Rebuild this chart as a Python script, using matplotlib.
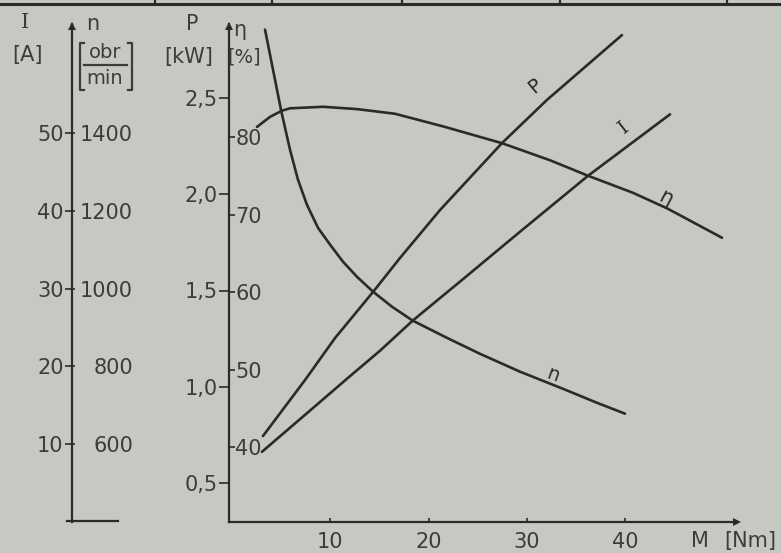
import matplotlib
matplotlib.use('Agg')
import matplotlib.pyplot as plt
from matplotlib.lines import Line2D

# ---------------- data ----------------
M_n = [3.36, 4.17, 4.98, 5.90, 6.71, 7.63, 8.75, 9.97, 11.29, 12.72, 14.34,
       16.28, 18.41, 21.87, 25.23, 29.30, 33.67, 37.13, 39.98]
n_vals = [1666, 1563, 1460, 1357, 1280, 1215, 1156, 1113, 1069, 1030, 992,
          953, 917, 873, 832, 786, 742, 706, 678]

M_eta = [2.54, 3.87, 5.09, 5.90, 9.26, 12.72, 16.58, 21.67, 27.47, 32.35,
         36.22, 40.79, 44.25, 49.85]
eta_vals = [81.3, 82.6, 83.4, 83.7, 83.9, 83.6, 83.0, 81.3, 79.2, 77.0,
            75.0, 72.8, 70.8, 67.0]

M_P = [3.15, 7.43, 10.48, 14.34, 17.09, 21.16, 27.47, 32.04, 39.67]
P_vals = [0.744, 1.035, 1.253, 1.492, 1.669, 1.918, 2.266, 2.490, 2.827]

M_I = [3.05, 8.95, 11.70, 15.06, 18.41, 23.40, 29.30, 36.22, 44.56]
I_vals = [9.0, 15.4, 18.4, 22.0, 25.9, 31.1, 37.3, 44.5, 52.4]

M_ticks = [10, 20, 30, 40]
P_ticks = [0.5, 1.0, 1.5, 2.0, 2.5]
P_ticklabels = ['0,5', '1,0', '1,5', '2,0', '2,5']
eta_ticks = [40, 50, 60, 70, 80]
I_ticks = [10, 20, 30, 40, 50]
n_ticks = [600, 800, 1000, 1200, 1400]

# ---------------- style ----------------
W, H = 781, 553
BG = '#c6c9c1'
INK = '#2a2b26'
TXT = '#3b3d38'
LW = 1.9
FS = 15
plt.rcParams['font.family'] = ['DejaVu Sans']

fig = plt.figure(figsize=(W / 100, H / 100), dpi=100, facecolor=BG)

X_LEFT, X_RIGHT, Y_BOT = 229, 781, 522      # pixel frame of the main axes
X0, PX_PER_NM = 232, 9.83                    # M = 0 position / scale


def fx(px):
    return px / W


def fy(py):
    return (H - py) / H


def lim(v1, y1, v2, y2):
    k = (v2 - v1) / (y1 - y2)
    return (v1 - (Y_BOT - y1) * k, v1 + y1 * k)


ax = fig.add_axes([fx(X_LEFT), fy(Y_BOT), (X_RIGHT - X_LEFT) / W, Y_BOT / H])
ax.set_facecolor('none')
ax.set_xlim((X_LEFT - X0) / PX_PER_NM, (X_RIGHT - X0) / PX_PER_NM)
ax.set_ylim(*lim(0.5, 483, 2.5, 98))

axe = ax.twinx()
axe.set_ylim(*lim(40, 447, 80, 137))
axI = ax.twinx()
axI.set_ylim(*lim(10, 444, 50, 133))
axn = ax.twinx()
axn.set_ylim(*lim(600, 444, 1400, 133))

for a in (ax, axe, axI, axn):
    for s in a.spines.values():
        s.set_visible(False)
        s.set_color(INK)
        s.set_linewidth(1.6)

# main axes: P on left, M on bottom
ax.spines['left'].set_visible(True)
ax.spines['left'].set_bounds(ax.get_ylim()[0], 0.5 + (483 - 24) / 192.5)
ax.spines['bottom'].set_visible(True)
ax.spines['bottom'].set_bounds(ax.get_xlim()[0], (737 - X0) / PX_PER_NM)
ax.set_xticks(M_ticks)
ax.set_xticklabels([str(t) for t in M_ticks])
ax.tick_params(axis='x', direction='in', length=3, width=1.2, color=INK,
               labelsize=FS, labelcolor=TXT, pad=7)
ax.set_yticks(P_ticks)
ax.set_yticklabels(P_ticklabels)
ax.tick_params(axis='y', direction='out', length=7, width=1.2, color=INK,
               labelsize=FS, labelcolor=TXT, pad=1)

# eta: ticks/labels to the right of the same spine
axe.spines['right'].set_position(('axes', 0))
axe.yaxis.tick_right()
axe.set_yticks(eta_ticks)
axe.set_yticklabels([str(t) for t in eta_ticks])
axe.tick_params(axis='y', direction='out', length=4, width=1.2, color=INK,
                labelsize=FS, labelcolor=TXT, pad=0.5)

# I / n axis far left
pos_left = (72 - X_LEFT) / (X_RIGHT - X_LEFT)
axI.spines['left'].set_visible(True)
axI.spines['left'].set_position(('axes', pos_left))
axI.spines['left'].set_bounds(axI.get_ylim()[0], (Y_BOT - 24) / 7.775)
axI.yaxis.tick_left()
axI.set_yticks(I_ticks)
axI.set_yticklabels([str(t) for t in I_ticks])
axI.tick_params(axis='y', direction='out', length=5, width=1.2, color=INK,
                labelsize=FS, labelcolor=TXT, pad=1)

axn.spines['right'].set_position(('axes', pos_left))
axn.yaxis.tick_right()
axn.set_yticks(n_ticks)
axn.set_yticklabels([str(t) for t in n_ticks])
axn.tick_params(axis='y', direction='out', length=2, width=1.2, color=INK,
                labelsize=FS, labelcolor=TXT, pad=42)
for lab in axn.get_yticklabels():
    lab.set_horizontalalignment('right')

# ---------------- curves ----------------
kw = dict(color=INK, lw=LW, solid_capstyle='round', solid_joinstyle='round')
ax.plot(M_P, P_vals, **kw)
axe.plot(M_eta, eta_vals, **kw)
axI.plot(M_I, I_vals, **kw)
axn.plot(M_n, n_vals, **kw)

# curve labels
fig.text(fx(535), fy(86), 'P', fontsize=14, color=INK, rotation=40,
         ha='center', va='center')
fig.text(fx(624), fy(128), 'I', fontsize=14, color=INK, rotation=38,
         ha='center', va='center', family='DejaVu Serif')
fig.text(fx(666), fy(198), 'η', fontsize=15, color=INK, rotation=-28,
         ha='center', va='center')
fig.text(fx(553), fy(375), 'n', fontsize=14, color=INK, rotation=-20,
         ha='center', va='center')

# ---------------- axis titles ----------------
fig.text(fx(25), fy(22), 'I', fontsize=FS, color=TXT, ha='center', va='center',
         family='DejaVu Serif')
fig.text(fx(27), fy(55), '[A]', fontsize=FS, color=TXT, ha='center', va='center')
fig.text(fx(93), fy(24), 'n', fontsize=FS, color=TXT, ha='center', va='center')
fig.text(fx(105), fy(52), 'obr', fontsize=FS - 1, color=TXT, ha='center', va='center')
fig.text(fx(105), fy(78), 'min', fontsize=FS - 1, color=TXT, ha='center', va='center')
fig.add_artist(Line2D([fx(84), fx(127)], [fy(65), fy(65)], color=TXT, lw=1.6))
for xb, d in ((80, 1), (132, -1)):
    fig.add_artist(Line2D([fx(xb + 4 * d), fx(xb), fx(xb), fx(xb + 4 * d)],
                          [fy(43), fy(43), fy(90), fy(90)], color=TXT, lw=1.6))
fig.text(fx(192), fy(24), 'P', fontsize=FS, color=TXT, ha='center', va='center')
fig.text(fx(189), fy(57), '[kW]', fontsize=FS, color=TXT, ha='center', va='center')
fig.text(fx(240), fy(30), 'η', fontsize=FS, color=TXT, ha='center', va='center')
fig.text(fx(244), fy(57), '[%]', fontsize=FS - 1, color=TXT, ha='center', va='center')
fig.text(fx(700), fy(541), 'M', fontsize=FS, color=TXT, ha='center', va='center')
fig.text(fx(750), fy(541), '[Nm]', fontsize=FS, color=TXT, ha='center', va='center')

# ---------------- decorations: arrows, foot, top border ----------------
for (px, py, mk) in ((72, 26, '^'), (229, 26, '^'), (737, 522, '>')):
    fig.add_artist(Line2D([fx(px)], [fy(py)], marker=mk, markersize=6,
                          color=INK, markeredgewidth=0))
fig.add_artist(Line2D([fx(67), fx(118)], [fy(521), fy(521)], color=INK, lw=1.6))
fig.add_artist(Line2D([0, 1], [fy(4), fy(4)], color=INK, lw=2.2))
for xv in (155, 272, 402, 560, 727):
    fig.add_artist(Line2D([fx(xv), fx(xv)], [fy(0), fy(4)], color=INK, lw=1.6))

fig.savefig('out.png', dpi=100, facecolor=BG)
